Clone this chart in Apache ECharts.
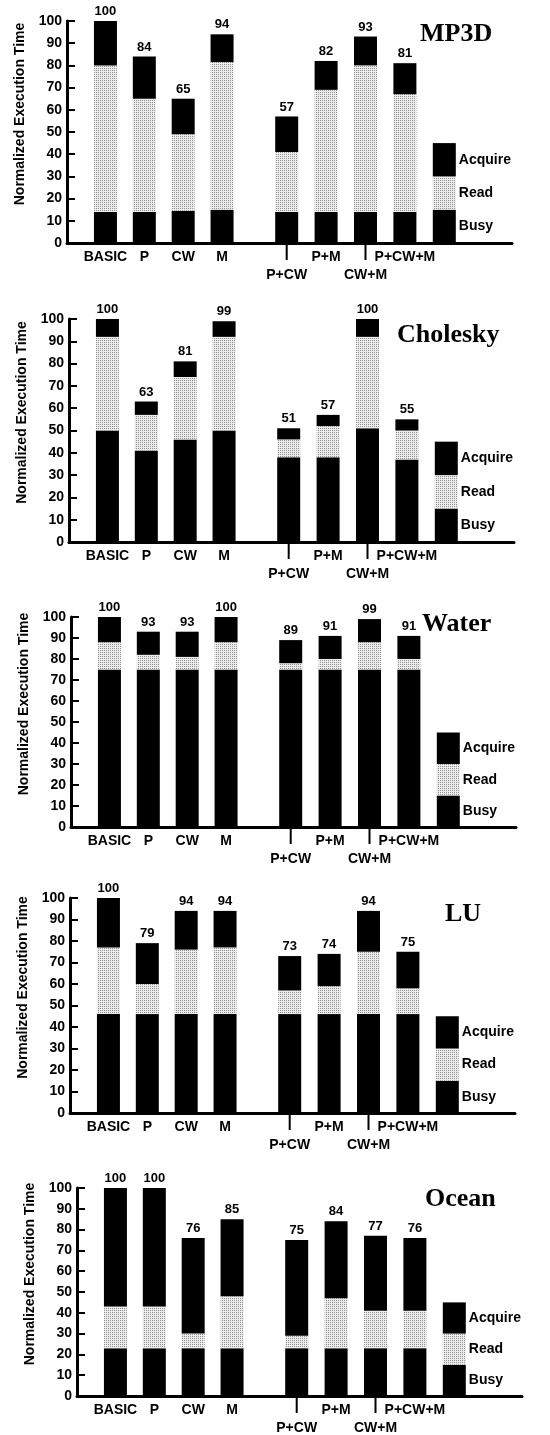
<!DOCTYPE html>
<html>
<head>
<meta charset="utf-8">
<script src="https://cdn.jsdelivr.net/npm/echarts@6/dist/echarts.min.js"></script>
<style>
  html, body { margin: 0; padding: 0; background: #fff; }
  #chart { width: 550px; height: 1435px; }
</style>
</head>
<body>
<div id="chart"></div>
<script>
// bar groups, left group then right group
var leftCats = ['BASIC', 'P', 'CW', 'M'];
var rightCats = ['P+CW', 'P+M', 'CW+M', 'P+CW+M'];
var lowLabels = ['P+CW', 'CW+M']; // these hang below a little leader line

// the sample bar used as a legend
var legendNames = ['Busy', 'Read', 'Acquire'];
var legendSample = [15, 15, 15];

// y axis
var yMin = 0, yMax = 100, yStep = 10;

// values (busy / read / acquire, in % of BASIC)
var mp3dBusy    = [14, 14, 14.5, 15, 14, 14, 14, 14];
var mp3dRead    = [66, 51, 34.5, 66.5, 27, 55, 66, 53];
var mp3dAcquire = [20, 19, 16, 12.5, 16, 13, 13, 14];

var choleskyBusy    = [50, 41, 46, 50, 38, 38, 51, 37];
var choleskyRead    = [42, 16, 28, 42, 8, 14, 41, 13];
var choleskyAcquire = [8, 6, 7, 7, 5, 5, 8, 5];

var waterBusy    = [75, 75, 75, 75, 75, 75, 75, 75];
var waterRead    = [13, 7, 6, 13, 3, 5, 13, 5];
var waterAcquire = [12, 11, 12, 12, 11, 11, 11, 11];

var luBusy    = [46, 46, 46, 46, 46, 46, 46, 46];
var luRead    = [31, 14, 30, 31, 11, 13, 29, 12];
var luAcquire = [23, 19, 18, 17, 16, 15, 19, 17];

var oceanBusy    = [23, 23, 23, 23, 23, 23, 23, 23];
var oceanRead    = [20, 20, 7, 25, 6, 24, 18, 18];
var oceanAcquire = [57, 57, 46, 37, 46, 37, 36, 35];

var panels = [
  { title: 'MP3D',     busy: mp3dBusy,     read: mp3dRead,     acquire: mp3dAcquire },
  { title: 'Cholesky', busy: choleskyBusy, read: choleskyRead, acquire: choleskyAcquire },
  { title: 'Water',    busy: waterBusy,    read: waterRead,    acquire: waterAcquire },
  { title: 'LU',       busy: luBusy,       read: luRead,       acquire: luAcquire },
  { title: 'Ocean',    busy: oceanBusy,    read: oceanRead,    acquire: oceanAcquire }
];

// where each panel sits on the page (y axis x, pixel of 100, pixel of 0, title spot)
var layout = [
  { ax: 67, top: 21,  bottom: 243,  tx: 420, ty: 21 },
  { ax: 69, top: 319, bottom: 542,  tx: 397, ty: 322 },
  { ax: 71, top: 617, bottom: 827,  tx: 422, ty: 611 },
  { ax: 70, top: 898, bottom: 1113, tx: 445, ty: 901 },
  { ax: 77, top: 1188, bottom: 1396, tx: 425, ty: 1186 }
];

var SANS = '"Liberation Sans", Arial, Helvetica, sans-serif';
var SERIF = '"Liberation Serif", "Times New Roman", serif';

// stippled grey of the "Read" part
var readStyle = {
  color: '#ececec',
  decal: {
    symbol: 'rect', symbolSize: 1,
    dashArrayX: [1, 1], dashArrayY: [1, 1],
    color: 'rgba(70,70,70,0.55)'
  }
};

var chart = echarts.init(document.getElementById('chart'), null, { renderer: 'canvas' });

var grids = [], xAxes = [], yAxes = [], series = [], titles = [];

var catRich = {
  hi: { fontFamily: SANS, fontWeight: 'bold', fontSize: 14, color: '#000', lineHeight: 29 },
  bar: { width: 2, height: 17, lineHeight: 17, backgroundColor: '#000' },
  lo: { fontFamily: SANS, fontWeight: 'bold', fontSize: 14, color: '#000', lineHeight: 30 }
};

function catLabel(v) {
  if (v === '') return '';
  if (lowLabels.indexOf(v) >= 0) return '{bar|}\n{lo|' + v + '}';
  return '{hi|' + v + '}';
}

function hiddenY(idx) {
  return { type: 'value', gridIndex: idx, min: yMin, max: yMax, interval: yStep, show: false };
}

function catAxis(idx, data) {
  return {
    type: 'category', gridIndex: idx, data: data,
    axisLine: { show: false }, axisTick: { show: false }, splitLine: { show: false },
    axisLabel: { interval: 0, margin: 0, hideOverlap: false, formatter: catLabel, rich: catRich }
  };
}

panels.forEach(function (p, i) {
  var L = layout[i];
  var h = L.bottom - L.top;
  var g0 = i * 3;

  // frame grid: y axis and the long base line
  grids.push({ left: L.ax, top: L.top, width: 445, height: h });
  // left group and right group of bars
  grids.push({ left: L.ax + 19, top: L.top, width: 155.5, height: h });
  grids.push({ left: L.ax + 200, top: L.top, width: 197, height: h });

  xAxes.push({
    type: 'value', gridIndex: g0, min: 0, max: 1,
    axisLine: { show: true, lineStyle: { color: '#000', width: 3 } },
    axisTick: { show: false }, axisLabel: { show: false }, splitLine: { show: false }
  });
  xAxes.push(catAxis(g0 + 1, leftCats));
  xAxes.push(catAxis(g0 + 2, rightCats.concat([''])));

  yAxes.push({
    type: 'value', gridIndex: g0, min: yMin, max: yMax, interval: yStep,
    name: 'Normalized Execution Time', nameLocation: 'middle', nameGap: 40, nameRotate: 90,
    nameTextStyle: { fontFamily: SANS, fontWeight: 'bold', fontSize: 14, color: '#000', padding: [0, 0, 0, 36] },
    axisLine: { show: true, lineStyle: { color: '#000', width: 3 } },
    axisTick: { show: true, inside: true, length: 8, lineStyle: { color: '#000', width: 2 } },
    axisLabel: { margin: 5, fontFamily: SANS, fontWeight: 'bold', fontSize: 14, color: '#000' },
    splitLine: { show: false }
  });
  yAxes.push(hiddenY(g0 + 1));
  yAxes.push(hiddenY(g0 + 2));

  titles.push({
    text: p.title, left: L.tx, top: L.ty, padding: 0,
    textStyle: { fontFamily: SERIF, fontWeight: 'bold', fontSize: 26, color: '#000' }
  });

  var parts = [p.busy, p.read, p.acquire];
  var styles = [{ color: '#000' }, readStyle, { color: '#000' }];

  function total(k) {
    return Math.round(p.busy[k] + p.read[k] + p.acquire[k]);
  }

  [0, 1].forEach(function (side) {
    var start = side === 0 ? 0 : 4;
    parts.forEach(function (vals, s) {
      var data = vals.slice(start, start + 4);
      if (side === 1) {
        data.push({
          value: legendSample[s],
          label: {
            show: true, position: 'right', distance: 3, formatter: legendNames[s],
            fontFamily: SANS, fontWeight: 'bold', fontSize: 14, color: '#000'
          }
        });
      }
      var ser = {
        type: 'bar', name: legendNames[s],
        xAxisIndex: g0 + 1 + side, yAxisIndex: g0 + 1 + side,
        stack: 'p' + i + 's' + side,
        barWidth: 23,
        itemStyle: styles[s],
        data: data,
        silent: true
      };
      if (s === 2) {
        ser.label = {
          show: true, position: 'top', distance: 3,
          fontFamily: SANS, fontWeight: 'bold', fontSize: 13, color: '#000',
          formatter: function (q) { return String(total(start + q.dataIndex)); }
        };
      }
      series.push(ser);
    });
  });
});

chart.setOption({
  animation: false,
  backgroundColor: '#fff',
  title: titles,
  grid: grids,
  xAxis: xAxes,
  yAxis: yAxes,
  series: series
});
</script>
</body>
</html>
